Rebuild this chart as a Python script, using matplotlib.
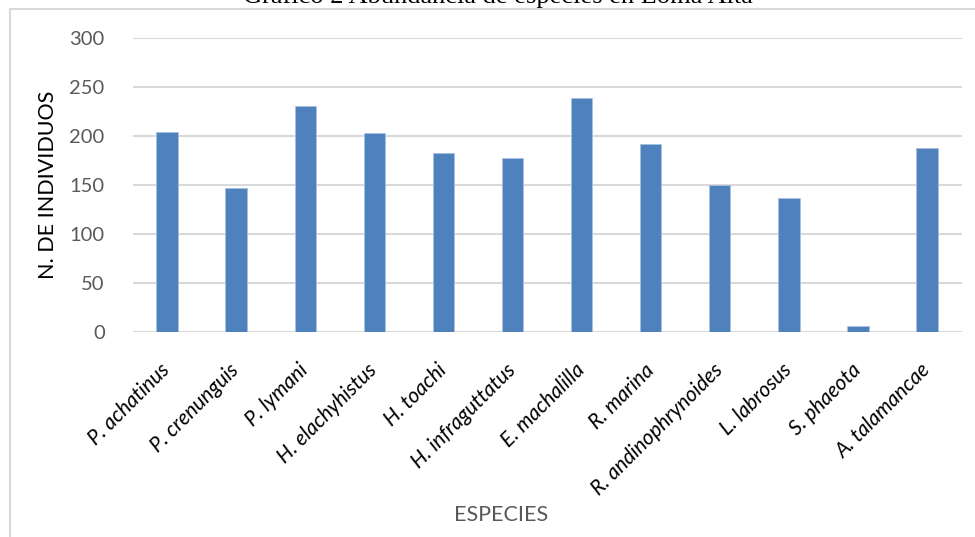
import matplotlib
matplotlib.use('Agg')
import matplotlib.pyplot as plt
from matplotlib.patches import Rectangle

# datos
especies = ['P. achatinus', 'P. crenunguis', 'P. lymani', 'H. elachyhistus',
            'H. toachi', 'H. infraguttatus', 'E. machalilla', 'R. marina',
            'R. andinophrynoides', 'L. labrosus', 'S. phaeota', 'A. talamancae']
individuos = [204, 147, 231, 203, 183, 178, 239, 192, 150, 137, 6, 188]
yticks = [0, 50, 100, 150, 200, 250, 300]

fuente = ['Lato', 'DejaVu Sans']

fig = plt.figure(figsize=(9.75, 5.37), dpi=100)
ax = fig.add_axes([0.1359, 0.3812, 0.8503, 0.548])

# marco del grafico (solo se ven borde izquierdo y superior)
fig.patches.append(Rectangle((10 / 975, -0.1), 1.2, 1 - 8.5 / 537 + 0.1,
                             transform=fig.transFigure, fill=False,
                             edgecolor='#d9d9d9', linewidth=1.5))

x = range(len(especies))
ax.bar(x, individuos, width=0.31, color='#4f81bd', edgecolor='#a9c1e0',
       linewidth=0.6, zorder=3)

ax.set_xlim(-0.5, len(especies) - 0.5)
ax.set_ylim(0, 300)
ax.set_yticks(yticks)
ax.set_yticklabels([str(v) for v in yticks], family=fuente, fontsize=14.5,
                   color='#595959')
ax.set_xticks(list(x))
ax.set_xticklabels(especies, rotation=45, ha='right', va='center',
                   rotation_mode='anchor', family=fuente, style='italic',
                   fontsize=15, color='black')
ax.tick_params(axis='x', length=0, pad=25)
ax.tick_params(axis='y', length=0, pad=20)

ax.grid(axis='y', color='#d9d9d9', linewidth=1.5, zorder=0)
for s in ax.spines.values():
    s.set_visible(False)

ax.set_ylabel('N. DE INDIVIDUOS', family=fuente, fontsize=15.5, color='black',
              labelpad=8)
fig.text(0.514, 12 / 537, 'ESPECIES', ha='center', va='bottom',
         family=fuente, fontsize=15.5, color='#595959')

# titulo cortado por el borde superior
fig.text(0.511, 1 - 3 / 537, 'Gráfico 2 Abundancia de especies en Loma Alta',
         ha='center', va='baseline', family='Liberation Serif', fontsize=19,
         color='black')

fig.savefig('out.png', dpi=100)
